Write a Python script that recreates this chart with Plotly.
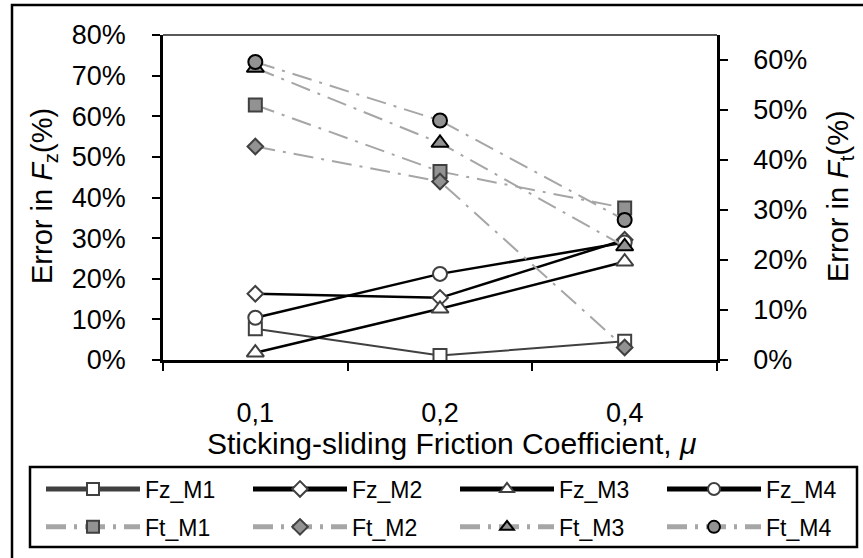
import plotly.graph_objects as go

# ---------------- data ----------------
categories = ["0,1", "0,2", "0,4"]

fz_m1 = [7.7, 1.1, 4.6]
fz_m2 = [16.3, 15.3, 29.6]
fz_m3 = [1.8, 12.6, 24.2]
fz_m4 = [10.4, 21.2, 28.9]

ft_m1 = [51.0, 37.7, 30.4]
ft_m2 = [42.7, 35.7, 2.5]
ft_m3 = [58.4, 43.4, 22.7]
ft_m4 = [59.6, 47.9, 28.0]

left_ticks = [0, 10, 20, 30, 40, 50, 60, 70, 80]
right_ticks = [0, 10, 20, 30, 40, 50, 60]

FONT = "Liberation Sans, Arial, sans-serif"

# plot area geometry in pixels
W, H = 863, 558
L, R, T, B = 163, 717, 35, 360
PW, PH = R - L, B - T


def px(xp):
    return (xp - L) / PW


def py(yp):
    return (B - yp) / PH


legend_ids = ["legend", "legend2", "legend3", "legend4"]

fig = go.Figure()

fz_series = [
    ("Fz_M1", fz_m1, "square", 13, "#404040", 2),
    ("Fz_M2", fz_m2, "diamond", 12, "#000000", 2.5),
    ("Fz_M3", fz_m3, "triangle-up", 15, "#000000", 2.5),
    ("Fz_M4", fz_m4, "circle", 14, "#000000", 2.5),
]
for k, (name, vals, sym, size, lc, lw) in enumerate(fz_series):
    fig.add_trace(go.Scatter(
        x=categories, y=vals, name=name, mode="lines+markers",
        line=dict(color=lc, width=lw),
        marker=dict(symbol=sym, size=size, color="white",
                    line=dict(color="#404040", width=2)),
        yaxis="y", legend=legend_ids[k], legendgroup=name, cliponaxis=False,
    ))

ft_series = [
    ("Ft_M1", ft_m1, "square", 13, "#404040"),
    ("Ft_M2", ft_m2, "diamond", 12, "#404040"),
    ("Ft_M3", ft_m3, "triangle-up", 15, "#000000"),
    ("Ft_M4", ft_m4, "circle", 14, "#000000"),
]
for k, (name, vals, sym, size, oc) in enumerate(ft_series):
    fig.add_trace(go.Scatter(
        x=categories, y=vals, name=name, mode="lines+markers",
        line=dict(color="#a6a6a6", width=2, dash="20px,8px,3px,8px"),
        marker=dict(symbol=sym, size=size, color="#929292",
                    line=dict(color=oc, width=2)),
        yaxis="y2", legend=legend_ids[k], legendgroup=name, cliponaxis=False,
    ))

tickfont = dict(family=FONT, size=27, color="black")
legfont = dict(family=FONT, size=23, color="black")

legend_cols = [41, 248, 455, 662]
legends = {}
for lid, xc in zip(legend_ids, legend_cols):
    legends[lid] = dict(
        orientation="v", x=px(xc), xanchor="left", y=py(508), yanchor="middle",
        itemwidth=94, font=legfont, bgcolor="rgba(0,0,0,0)",
        borderwidth=0, itemsizing="constant", traceorder="grouped",
        tracegroupgap=5,
    )

fig.update_layout(
    width=W, height=H,
    margin=dict(l=L, r=W - R, t=T, b=H - B, autoexpand=False),
    paper_bgcolor="white", plot_bgcolor="white",
    font=dict(family=FONT, color="black"),
    xaxis=dict(
        type="category", categoryorder="array", categoryarray=categories,
        range=[-0.5, 2.5], tickson="boundaries",
        ticks="outside", ticklen=8, tickwidth=2, tickcolor="black",
        showline=True, linecolor="black", linewidth=2.5,
        showgrid=False, zeroline=False, tickfont=tickfont,
        ticklabelstandoff=27,
    ),
    xaxis2=dict(
        overlaying="x", anchor="y", side="bottom", range=[-0.5, 2.5],
        tickmode="array", tickvals=[0.5, 1.5], ticks="inside", ticklen=8,
        tickwidth=2, tickcolor="black", showticklabels=False,
        showgrid=False, zeroline=False, showline=False,
    ),
    yaxis=dict(
        range=[0, 80], tickmode="array", tickvals=left_ticks,
        ticktext=[f"{v}%" for v in left_ticks],
        ticks="outside", ticklen=8, tickwidth=2, tickcolor="black",
        showline=True, linecolor="black", linewidth=2.5,
        showgrid=False, zeroline=False, tickfont=tickfont,
        ticklabelstandoff=21,
    ),
    yaxis2=dict(
        overlaying="y", side="right", anchor="x",
        range=[0, 65], tickmode="array", tickvals=right_ticks,
        ticktext=[f"{v}%" for v in right_ticks],
        ticks="outside", ticklen=8, tickwidth=2, tickcolor="black",
        showline=True, linecolor="black", linewidth=2.5,
        showgrid=False, zeroline=False, tickfont=tickfont,
        ticklabelstandoff=20,
    ),
    yaxis3=dict(
        overlaying="y", side="left", anchor="x", range=[0, 80],
        tickmode="array", tickvals=left_ticks, ticks="inside", ticklen=8,
        tickwidth=2, tickcolor="black", showticklabels=False,
        showgrid=False, zeroline=False, showline=False,
    ),
    yaxis4=dict(
        overlaying="y", side="right", anchor="x", range=[0, 65],
        tickmode="array", tickvals=right_ticks, ticks="inside", ticklen=8,
        tickwidth=2, tickcolor="black", showticklabels=False,
        showgrid=False, zeroline=False, showline=False,
    ),
    showlegend=True,
    **legends,
)

# frame, top border of plot area and legend box
fig.add_shape(type="rect", xref="paper", yref="paper",
              x0=px(12), x1=px(880), y0=py(580), y1=py(5),
              line=dict(color="black", width=2.5), fillcolor="rgba(0,0,0,0)",
              layer="below")
fig.add_shape(type="line", xref="paper", yref="paper",
              x0=0, x1=1, y0=1, y1=1, line=dict(color="#595959", width=2))
fig.add_shape(type="rect", xref="paper", yref="paper",
              x0=px(30), x1=px(857), y0=py(547), y1=py(467),
              line=dict(color="black", width=2.5), fillcolor="rgba(0,0,0,0)")

# axis titles
fig.add_annotation(text="Sticking-sliding Friction Coefficient, <i>μ</i>",
                   xref="paper", yref="paper", x=px(451), y=py(443),
                   xanchor="center", yanchor="middle", showarrow=False,
                   font=dict(family=FONT, size=30, color="black"))
fig.add_annotation(text="Error in <i>F</i><sub>z</sub>(%)",
                   xref="paper", yref="paper", x=px(44), y=py(196),
                   xanchor="center", yanchor="middle", showarrow=False,
                   textangle=-90,
                   font=dict(family=FONT, size=29, color="black"))
fig.add_annotation(text="Error in <i>F</i><sub>t</sub>(%)",
                   xref="paper", yref="paper", x=px(840), y=py(196),
                   xanchor="center", yanchor="middle", showarrow=False,
                   textangle=-90,
                   font=dict(family=FONT, size=29, color="black"))

fig.write_html("out.html")
